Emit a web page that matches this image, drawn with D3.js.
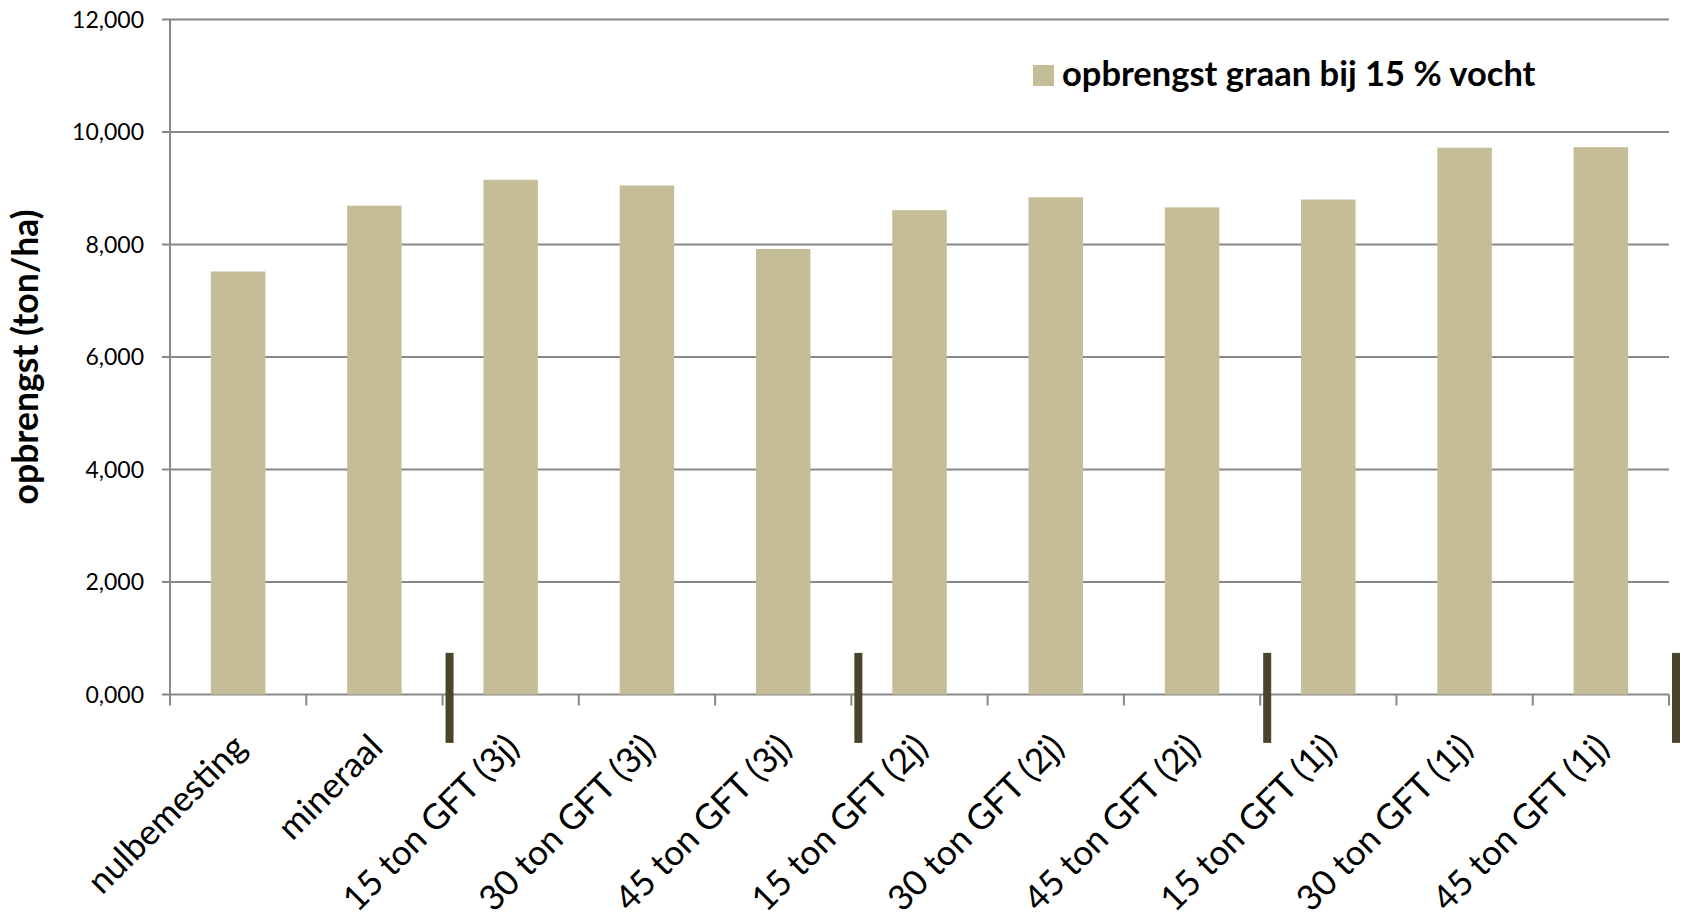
<!DOCTYPE html>
<html>
<head>
<meta charset="utf-8">
<script src="https://cdnjs.cloudflare.com/ajax/libs/d3/7.8.5/d3.min.js"></script>
<style>
  html, body { margin: 0; padding: 0; background: #fff; }
  svg { display: block; font-family: Lato, "Open Sans", sans-serif; }
</style>
</head>
<body>
<svg class="chart" width="1684" height="915"></svg>
<script>
// categories on the x axis
var categories = ["nulbemesting", "mineraal",
  "15 ton GFT (3j)", "30 ton GFT (3j)", "45 ton GFT (3j)",
  "15 ton GFT (2j)", "30 ton GFT (2j)", "45 ton GFT (2j)",
  "15 ton GFT (1j)", "30 ton GFT (1j)", "45 ton GFT (1j)"];

// opbrengst graan bij 15 % vocht (ton/ha)
var yieldValues = [7.52, 8.69, 9.15, 9.05, 7.92, 8.61, 8.84, 8.66, 8.80, 9.72, 9.73];

var yTicks = [0, 2, 4, 6, 8, 10, 12];

// dark separators after these categories (group boundaries), and their value span
var separatorAfter = [1, 4, 7, 10];
var separatorSpan = [0.74, -0.86];

var seriesName = "opbrengst graan bij 15 % vocht";
var yTitle = "opbrengst (ton/ha)";

var svg = d3.select("svg.chart"),
    margin = {top: 19.5, right: 15, bottom: 220.5, left: 170},
    width = 1684 - margin.left - margin.right,
    height = 915 - margin.top - margin.bottom;

var barColor = "#c4bd97",
    sepColor = "#4a452a",
    gridColor = "#888888";

var nl = d3.formatLocale({decimal: ",", thousands: ".", grouping: [3], currency: ["€", ""]});
var fmt = nl.format(".3f");

var x = d3.scaleBand()
    .domain(categories)
    .range([margin.left, margin.left + width])
    .paddingInner(0.6)
    .paddingOuter(0.3);

var y = d3.scaleLinear()
    .domain([0, 12])
    .range([margin.top + height, margin.top]);

var step = x.step(),
    gap = (step - x.bandwidth()) / 2;

// right edge of category i
function boundary(i) { return x(categories[i]) + x.bandwidth() + gap; }

// gridlines + y ticks
svg.append("g")
    .selectAll("line")
    .data(yTicks)
    .enter().append("line")
    .attr("x1", margin.left - 8)
    .attr("x2", margin.left + width)
    .attr("y1", function(d) { return y(d); })
    .attr("y2", function(d) { return y(d); })
    .style("stroke", gridColor)
    .style("stroke-width", 2);

svg.append("g")
    .selectAll("text")
    .data(yTicks)
    .enter().append("text")
    .attr("x", 144)
    .attr("y", function(d) { return y(d); })
    .attr("dy", "0.36em")
    .attr("text-anchor", "end")
    .style("font-size", "23px")
    .style("fill", "#000")
    .text(function(d) { return fmt(d); });

// y axis line
svg.append("line")
    .attr("x1", margin.left).attr("x2", margin.left)
    .attr("y1", y(12)).attr("y2", y(0))
    .style("stroke", gridColor)
    .style("stroke-width", 2);

// x axis ticks at category boundaries
var xTicks = d3.range(-1, categories.length);
svg.append("g")
    .selectAll("line")
    .data(xTicks)
    .enter().append("line")
    .attr("x1", function(i) { return i < 0 ? margin.left : boundary(i); })
    .attr("x2", function(i) { return i < 0 ? margin.left : boundary(i); })
    .attr("y1", y(0))
    .attr("y2", y(0) + 11)
    .style("stroke", gridColor)
    .style("stroke-width", 2);

// bars
svg.append("g")
    .selectAll("rect")
    .data(yieldValues)
    .enter().append("rect")
    .attr("x", function(d, i) { return x(categories[i]); })
    .attr("y", function(d) { return y(d); })
    .attr("width", x.bandwidth())
    .attr("height", function(d) { return y(0) - y(d); })
    .style("fill", barColor);

// group separators
svg.append("g")
    .selectAll("rect")
    .data(separatorAfter)
    .enter().append("rect")
    .attr("x", function(i) { return boundary(i) + 3; })
    .attr("y", y(separatorSpan[0]))
    .attr("width", 8)
    .attr("height", y(separatorSpan[1]) - y(separatorSpan[0]))
    .style("fill", sepColor);

// x labels, rotated
svg.append("g")
    .selectAll("text")
    .data(categories)
    .enter().append("text")
    .attr("transform", function(d) {
      return "translate(" + (x(d) + x.bandwidth() / 2 - 7) + "," + 732 + ") rotate(-45)";
    })
    .attr("dy", "0.7em")
    .attr("text-anchor", "end")
    .style("font-size", "35px")
    .style("fill", "#000")
    .text(function(d) { return d; });

// y axis title
svg.append("text")
    .attr("transform", "translate(38," + (margin.top + height / 2) + ") rotate(-90)")
    .attr("text-anchor", "middle")
    .style("font-size", "35.5px")
    .style("font-weight", "bold")
    .style("fill", "#000")
    .text(yTitle);

// legend
var legend = svg.append("g").attr("class", "legend");
legend.append("rect")
    .attr("x", 1033)
    .attr("y", 65)
    .attr("width", 21)
    .attr("height", 21)
    .style("fill", barColor);
legend.append("text")
    .attr("x", 1062)
    .attr("y", 86)
    .style("font-size", "34.5px")
    .style("font-weight", "bold")
    .style("fill", "#000")
    .text(seriesName);
</script>
</body>
</html>
